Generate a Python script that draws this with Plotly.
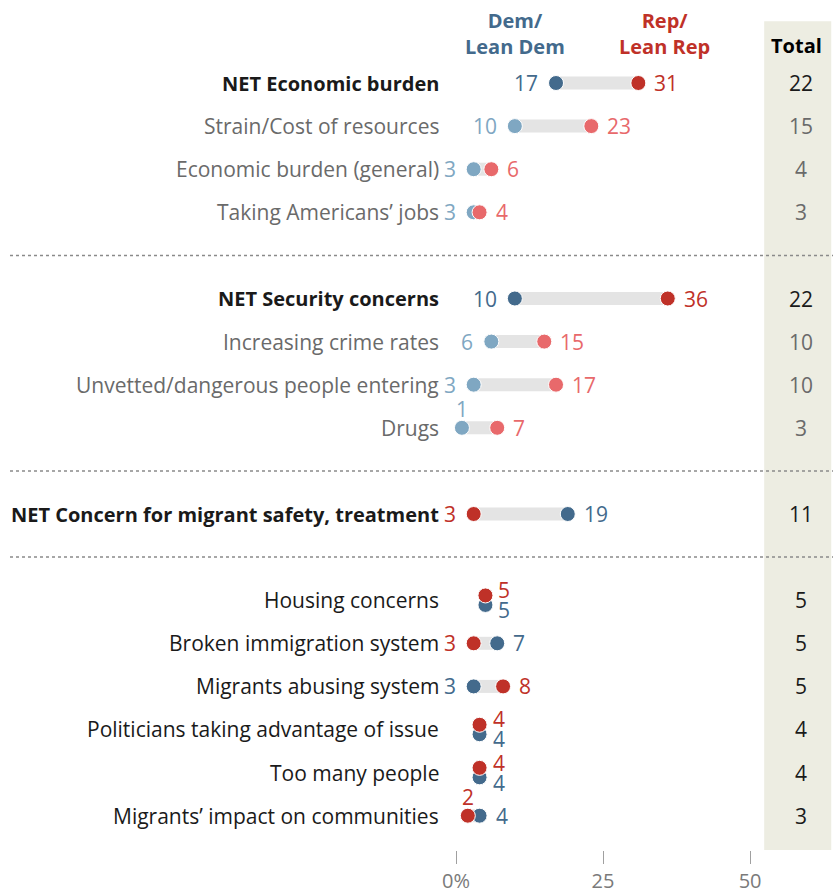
import plotly.graph_objects as go

# rows, top to bottom; "|" marks a dotted separator
LABELS = [
    "NET Economic burden", "Strain/Cost of resources", "Economic burden (general)", "Taking Americans’ jobs", "|",
    "NET Security concerns", "Increasing crime rates", "Unvetted/dangerous people entering", "Drugs", "|",
    "NET Concern for migrant safety, treatment", "|",
    "Housing concerns", "Broken immigration system", "Migrants abusing system",
    "Politicians taking advantage of issue", "Too many people", "Migrants’ impact on communities",
]
KIND = ["net", "sub", "sub", "sub", "|", "net", "sub", "sub", "sub", "|", "net", "|",
        "other", "other", "other", "other", "other", "other"]
DEM = [17, 10, 3, 3, None, 10, 6, 3, 1, None, 19, None, 5, 7, 3, 4, 4, 4]
REP = [31, 23, 6, 4, None, 36, 15, 17, 7, None, 3, None, 5, 3, 8, 4, 4, 2]
TOTAL = [22, 15, 4, 3, None, 22, 10, 10, 3, None, 11, None, 5, 5, 5, 4, 4, 3]

X_TICKS = [0, 25, 50]
X_TICKTEXT = ["0%", "25", "50"]

FONT = "Open Sans, Arial, sans-serif"
DEM_DARK, DEM_LIGHT = "#436A8C", "#7FA7C2"
REP_DARK, REP_LIGHT = "#BF3128", "#E8696B"
BLACK, GRAY = "#1a1a1a", "#6a6a6a"
FS = 21      # regular text
FS_B = 20    # bold text

fig = go.Figure()
ann = []
seg_x, seg_y = [], []
dem_pts = {"x": [], "y": [], "c": []}
rep_pts = {"x": [], "y": [], "c": []}

for i, lab in enumerate(LABELS):
    if KIND[i] == "|":
        fig.add_shape(type="line", xref="paper", x0=0.012, x1=1, y0=i, y1=i,
                      line=dict(color="#8a8a8a", width=1.5, dash="3px,3px"))
        continue
    d, r, k = DEM[i], REP[i], KIND[i]
    dc = DEM_LIGHT if k == "sub" else DEM_DARK
    rc = REP_LIGHT if k == "sub" else REP_DARK
    lab_col = GRAY if k == "sub" else BLACK
    if k == "net":
        ann.append(dict(x=0, y=i, text=f"<b>{lab}</b>", xanchor="right", xshift=-15,
                        font=dict(color=lab_col, size=FS_B)))
    else:
        ann.append(dict(x=0, y=i, text=lab, xanchor="right", xshift=-15,
                        font=dict(color=lab_col, size=FS)))
    ann.append(dict(x=58.7, y=i, text=str(TOTAL[i]), xanchor="center",
                    font=dict(color=GRAY if k == "sub" else BLACK, size=FS)))
    if d == r:
        # overlapping: Rep dot nudged up, Dem down, labels stacked to the right
        dy = 0.11
        dem_pts["x"].append(d); dem_pts["y"].append(i + dy); dem_pts["c"].append(dc)
        rep_pts["x"].append(r); rep_pts["y"].append(i - dy); rep_pts["c"].append(rc)
        ann.append(dict(x=r, y=i, text=str(r), xanchor="left", xshift=11, yshift=10,
                        font=dict(color=rc, size=FS)))
        ann.append(dict(x=d, y=i, text=str(d), xanchor="left", xshift=11, yshift=-10,
                        font=dict(color=dc, size=FS)))
        continue
    seg_x += [d, r, None]
    seg_y += [i, i, None]
    dem_pts["x"].append(d); dem_pts["y"].append(i); dem_pts["c"].append(dc)
    rep_pts["x"].append(r); rep_pts["y"].append(i); rep_pts["c"].append(rc)
    lo, hi = (d, r) if d < r else (r, d)
    lo_c, hi_c = (dc, rc) if d < r else (rc, dc)
    if lo <= 2:
        ann.append(dict(x=lo, y=i, text=str(lo), xanchor="center", yshift=19,
                        font=dict(color=lo_c, size=FS)))
    else:
        ann.append(dict(x=lo, y=i, text=str(lo), xanchor="right", xshift=-16,
                        font=dict(color=lo_c, size=FS)))
    ann.append(dict(x=hi, y=i, text=str(hi), xanchor="left", xshift=14,
                    font=dict(color=hi_c, size=FS)))

fig.add_trace(go.Scatter(x=seg_x, y=seg_y, mode="lines", hoverinfo="skip",
                         line=dict(color="#E4E4E4", width=13)))
fig.add_trace(go.Scatter(x=dem_pts["x"], y=dem_pts["y"], mode="markers", name="Dem/Lean Dem",
                         marker=dict(size=15, color=dem_pts["c"], line=dict(color="white", width=1))))
fig.add_trace(go.Scatter(x=rep_pts["x"], y=rep_pts["y"], mode="markers", name="Rep/Lean Rep",
                         marker=dict(size=15, color=rep_pts["c"], line=dict(color="white", width=1))))

# headers
ann.append(dict(x=10.0, y=-1.16, text="<b>Dem/<br>Lean Dem</b>", xanchor="center",
                font=dict(color=DEM_DARK, size=20)))
ann.append(dict(x=35.5, y=-1.16, text="<b>Rep/<br>Lean Rep</b>", xanchor="center",
                font=dict(color=REP_DARK, size=20)))
ann.append(dict(x=57.9, y=-0.86, text="<b>Total</b>", xanchor="center",
                font=dict(color="#000000", size=20)))
for a in ann:
    a.update(showarrow=False, yanchor="middle", font=dict(family=FONT, **a["font"]))

# total column background
fig.add_shape(type="rect", xref="x", yref="paper", x0=52.4, x1=63.8, y0=0, y1=0.975,
              fillcolor="#EDEDE2", line_width=0, layer="below")

fig.update_layout(
    width=833, height=894,
    margin=dict(l=0, r=0, t=0, b=44),
    paper_bgcolor="white", plot_bgcolor="white",
    showlegend=False,
    font=dict(family=FONT, size=FS, color=BLACK),
    annotations=ann,
)
fig.update_xaxes(range=[-77.55, 64.1], tickvals=X_TICKS, ticktext=X_TICKTEXT,
                 showgrid=False, zeroline=False, showline=False, automargin=False,
                 ticks="outside", ticklen=13, tickcolor="#a0a0a0", tickwidth=1,
                 ticklabelstandoff=0,
                 tickfont=dict(color="#7a7a7a", size=20))
fig.update_yaxes(range=[17.796, -1.926], showgrid=False, zeroline=False, automargin=False,
                 showticklabels=False, visible=False)

# drop the default page margin so the figure sits at the window's top-left
fig.write_html("out.html", config={"displayModeBar": False},
               post_script="document.body.style.margin='0';")
